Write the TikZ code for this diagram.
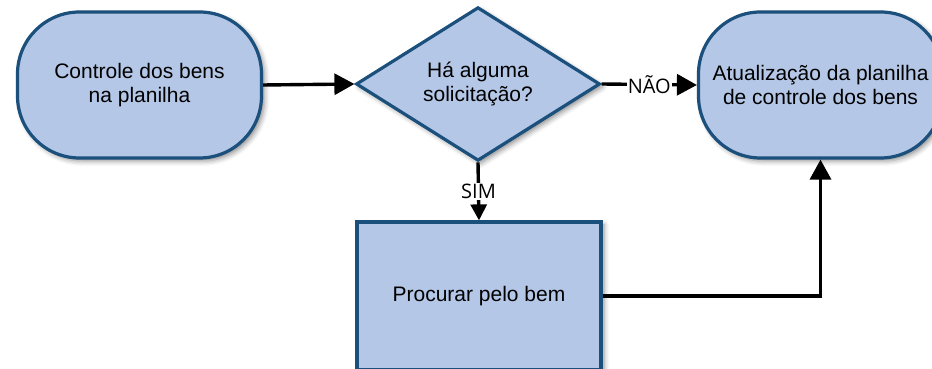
\documentclass[tikz,border=0pt]{standalone}
\usepackage{fontspec}
\setmainfont{Liberation Sans}
\newfontfamily\labelfont{Open Sans}
\usetikzlibrary{arrows.meta,shapes.geometric,shadows.blur}
\definecolor{shapefill}{HTML}{B4C7E7}
\definecolor{shapeline}{HTML}{1B4F7C}
\begin{document}
\begin{tikzpicture}[x=1pt,y=1pt,
  base/.style={draw=shapeline,fill=shapefill,line width=3.2pt,align=center,
    font=\fontsize{21}{24}\selectfont,inner sep=0pt,
    blur shadow={shadow xshift=3pt,shadow yshift=-3pt,shadow blur radius=5pt,shadow opacity=45}},
  terminal/.style={base,rectangle,rounded corners=62pt,minimum width=244pt,minimum height=146pt},
  decision/.style={base,diamond,minimum width=244pt,minimum height=146pt},
  process/.style={base,rectangle,minimum width=244pt,minimum height=148pt},
  conn/.style={line width=3.4pt,-{Triangle[length=20pt,width=21pt]}},
  lbl/.style={fill=white,inner sep=1pt,font=\labelfont\fontsize{20}{22}\selectfont}
]
\useasboundingbox (0,0) rectangle (932,369);
\clip (0,0) rectangle (932,369);
\node[terminal] (n1) at (139.5,284) {Controle dos bens\\na planilha};
\node[decision] (d) at (478,285) {Há alguma\\solicitação?};
\node[terminal] (n3) at (820.5,284) {Atualização da planilha\\de controle dos bens};
\node[process] (p) at (479,73) {Procurar pelo bem};
\draw[conn] (n1.east) -- (d.west);
\draw[conn] (d.east) -- node[lbl] {NÃO} (n3.west);
\draw[line width=3.4pt,-{Triangle[length=16pt,width=16pt]}] (d.south) -- node[lbl,pos=0.5] {SIM} (p.north);
\draw[conn] (p.east) -| (n3.south);
\end{tikzpicture}
\end{document}
